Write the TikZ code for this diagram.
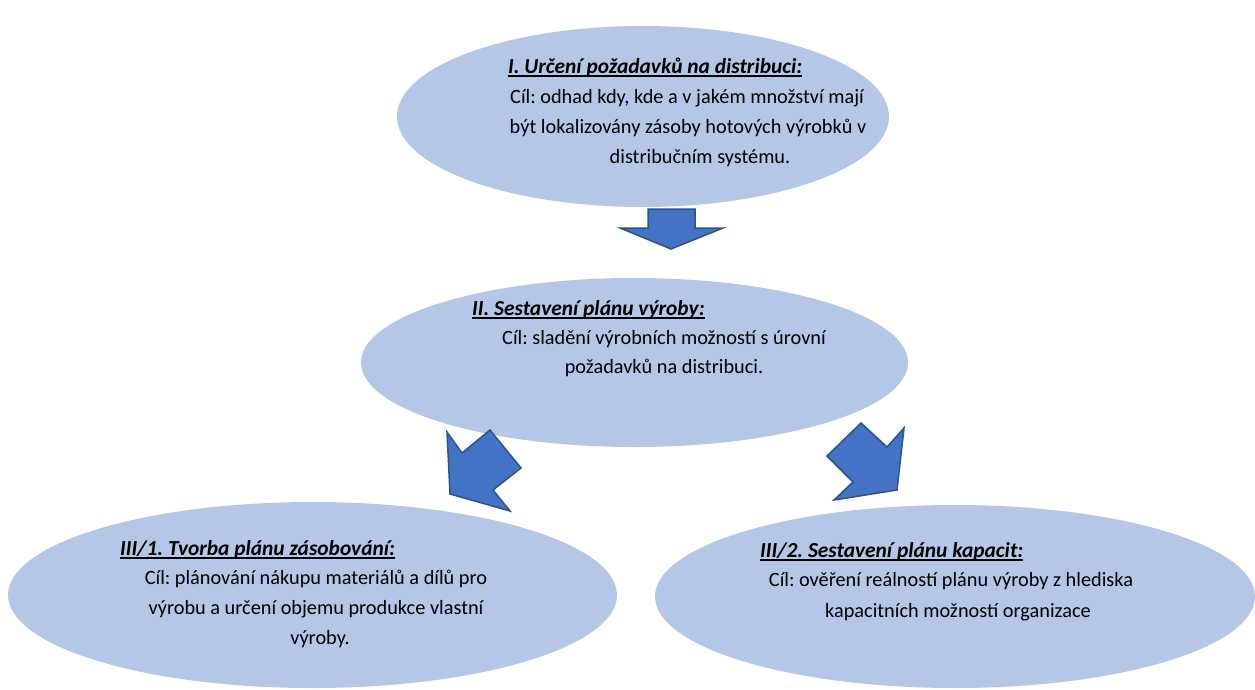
\documentclass[tikz,border=0pt]{standalone}
\usepackage{fontspec}
\setmainfont{Carlito}
\usetikzlibrary{shapes.geometric}
\definecolor{ellfill}{HTML}{B4C7E7}
\definecolor{arrfill}{HTML}{4472C4}
\definecolor{arrdraw}{HTML}{2F528F}
\frenchspacing
\tikzset{
  oval/.style={ellipse, fill=ellfill, draw=none, inner sep=0pt},
  ttl/.style={anchor=base west, inner sep=0pt, font=\fontsize{21.4}{30}\selectfont\bfseries\itshape},
  txt/.style={anchor=base, inner sep=0pt, font=\fontsize{20.3}{30}\selectfont}
}
\tikzset{blockarrow/.style={fill=arrfill, draw=arrdraw, line width=1.5pt, line join=miter}}
\newcommand{\ttltext}[1]{\setbox0\hbox{#1}\rlap{\raisebox{-4pt}[0pt][0pt]{\rule{\wd0}{1.8pt}}}\box0}
\begin{document}
\begin{tikzpicture}[x=1pt,y=-1pt]
\useasboundingbox (0,0) rectangle (1255,689);
\fill[white] (0,0) rectangle (1255,689);
% ellipses
\node[oval, minimum width=492pt, minimum height=181pt] (e1) at (643,116.5) {};
\node[oval, minimum width=547pt, minimum height=169pt] (e2) at (634.5,362.5) {};
\node[oval, minimum width=609pt, minimum height=186pt] (e3) at (312.5,595) {};
\node[oval, minimum width=600pt, minimum height=183pt] (e4) at (955,596.5) {};
% texts ellipse 1
\node[ttl] (t1) at (508,73) {\ttltext{I. Určení požadavků na distribuci:}};
\node[txt] (t1a) at (687,103) {Cíl: odhad kdy, kde a v jakém množství mají};
\node[txt] (t1b) at (688,133) {být lokalizovány zásoby hotových výrobků v};
\node[txt] (t1c) at (700,163) {distribučním systému.};
% texts ellipse 2
\node[ttl] (t2) at (472,315) {\ttltext{II. Sestavení plánu výroby:}};
\node[txt] (t2a) at (664,344) {Cíl: sladění výrobních možností s úrovní};
\node[txt] (t2b) at (664,373) {požadavků na distribuci.};
% texts ellipse 3
\node[ttl] (t3) at (120,555) {\ttltext{III/1. Tvorba plánu zásobování:}};
\node[txt] (t3a) at (316,584) {Cíl: plánování nákupu materiálů a dílů pro};
\node[txt] (t3b) at (316,614) {výrobu a určení objemu produkce vlastní};
\node[txt] (t3c) at (320,644) {výroby.};
% texts ellipse 4
\node[ttl] (t4) at (760,557) {\ttltext{III/2. Sestavení plánu kapacit:}};
\node[txt] (t4a) at (951,586) {Cíl: ověření reálností plánu výroby z hlediska};
\node[txt] (t4b) at (958,617) {kapacitních možností organizace};
% block arrows
\draw[blockarrow] (648,209) -- (695,209) -- (695,228) -- (723,228) -- (671,249) -- (620,228) -- (648,228) -- cycle;
\draw[blockarrow] (447,432) -- (462,453) -- (490,430) -- (521,468) -- (493,490) -- (510,511) -- (450,494) -- cycle;
\draw[blockarrow] (861,423) -- (887,447) -- (904,428) -- (897,490) -- (834,500) -- (853,482) -- (827,456) -- cycle;
\end{tikzpicture}
\end{document}
